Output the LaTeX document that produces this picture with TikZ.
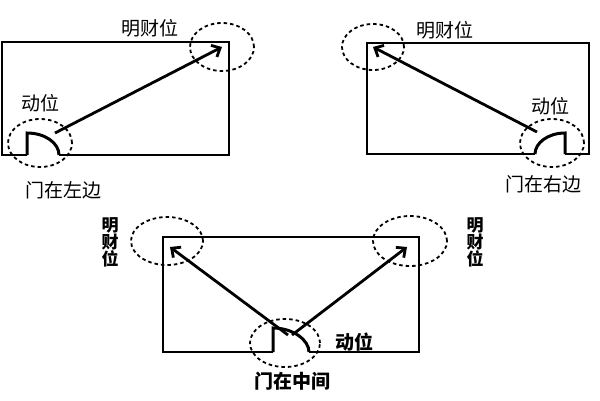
\documentclass[tikz,border=0pt]{standalone}
\usepackage{fontspec}
\setmainfont{Noto Sans CJK SC}
\usetikzlibrary{shapes.geometric,arrows.meta}
\begin{document}
\begin{tikzpicture}[x=1pt,y=-1pt,
 room/.style={line width=1.8pt},
 door/.style={line width=3pt},
 zone/.style={draw,ellipse,dash pattern=on 3.5pt off 3pt,line width=1.8pt,inner sep=0pt},
 flow/.style={line width=2.8pt,-{Straight Barb[length=7pt,width=13pt,line width=2.8pt]}},
 lbl/.style={font=\fontsize{19}{19}\selectfont,inner sep=0pt},
 lblb/.style={font=\bfseries\fontsize{19}{19}\selectfont,inner sep=0pt},
 vlbl/.style={font=\bfseries\fontsize{17}{17}\selectfont,align=center,inner sep=0pt}]
\useasboundingbox (0,0) rectangle (600,400);
% panel 1: door on the left
\draw[room] (27,155) -- (2,155) -- (2,42) -- (229,42) -- (229,155) -- (59,155);
\draw[door] (27,155) -- (27,133) .. controls (45,133) and (59,143) .. (59,155);
\node[zone,minimum width=64pt,minimum height=48pt] (w1) at (222,47) {};
\node[zone,minimum width=64pt,minimum height=48pt] (d1) at (40,143) {};
\node[lbl] (t1) at (150,28) {明财位};
\node[lbl] (m1) at (40,103) {动位};
\node[lbl] (c1) at (63,190) {门在左边};
\coordinate (s1) at (55,133);
\draw[flow] (s1) -- (w1.center);
% panel 2: door on the right
\draw[room] (565,154) -- (589,154) -- (589,43) -- (367,43) -- (367,154) -- (535,154);
\draw[door] (565,154) -- (565,133) .. controls (548,133) and (535,143) .. (535,154);
\node[zone,minimum width=62pt,minimum height=46pt] (w2) at (373,47) {};
\node[zone,minimum width=64pt,minimum height=48pt] (d2) at (552,143) {};
\node[lbl] (t2) at (445,30) {明财位};
\node[lbl] (m2) at (550,106) {动位};
\node[lbl] (c2) at (543,184) {门在右边};
\coordinate (s2) at (537,132);
\draw[flow] (s2) -- (w2.center);
% panel 3: door in the middle
\draw[room] (273,352) -- (163,352) -- (163,237) -- (419,237) -- (419,352) -- (309,352);
\draw[door] (273,352) -- (273,328) .. controls (293,328) and (309,340) .. (309,352);
\node[zone,minimum width=72pt,minimum height=48pt] (w3) at (167,241) {};
\node[zone,minimum width=74pt,minimum height=50pt] (w4) at (410,241) {};
\node[zone,minimum width=70pt,minimum height=48pt] (d3) at (285,343) {};
\node[vlbl] (t3) at (110,242) {明\\财\\位};
\node[vlbl] (t4) at (475,242) {明\\财\\位};
\node[lblb] (m3) at (354,342) {动位};
\node[lblb] (c3) at (292,381) {门在中间};
\coordinate (s3) at (288,335);
\coordinate (s4) at (292,335);
\coordinate (e3) at (170,247);
\coordinate (e4) at (407,247);
\draw[flow] (s3) -- (e3);
\draw[flow] (s4) -- (e4);
\end{tikzpicture}
\end{document}
